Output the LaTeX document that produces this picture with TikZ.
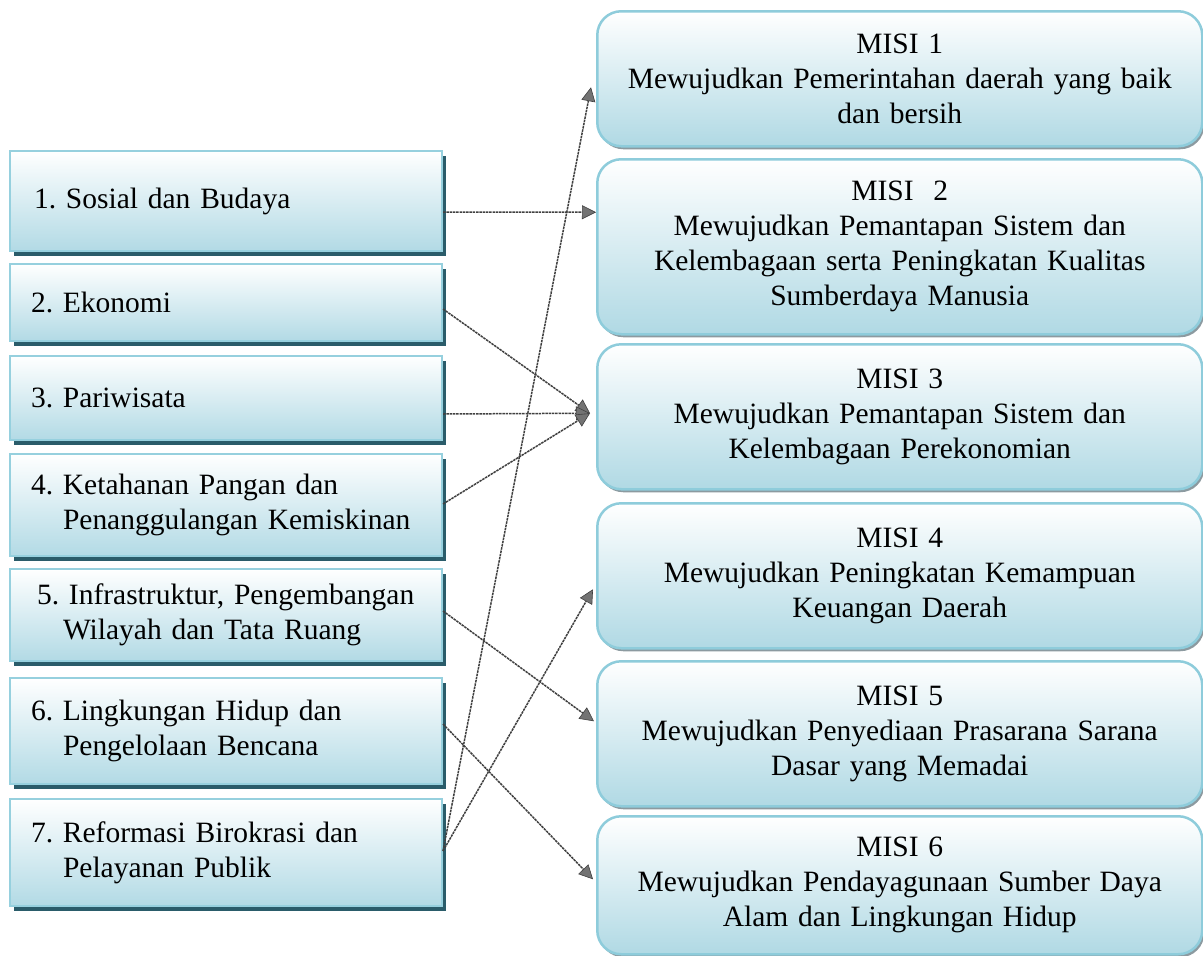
\documentclass[tikz,border=0pt]{standalone}
\usepackage{fontspec}
\setmainfont{Liberation Serif}
\usetikzlibrary{arrows.meta,shadows}
\definecolor{lfill}{RGB}{178,218,229}
\definecolor{lborder}{RGB}{150,208,222}
\definecolor{lshadow}{RGB}{42,92,106}
\definecolor{rfill}{RGB}{176,217,228}
\definecolor{rborder}{RGB}{142,204,219}
\definecolor{rshadow}{RGB}{140,154,160}
\newcommand{\boxfont}{\fontsize{29.5}{35}\selectfont\frenchspacing}
\begin{document}
\begin{tikzpicture}[x=1pt,y=-1pt,
  lbox/.style={anchor=north west, rectangle, draw=lborder, line width=2pt,
    top color=white, bottom color=lfill,
    general shadow={fill=lshadow, shadow xshift=4pt, shadow yshift=-5pt},
    minimum width=432pt, text width=390pt, inner xsep=21pt, inner ysep=0pt,
    align=left, font=\boxfont},
  rbox/.style={anchor=north west, rectangle, rounded corners=24pt, draw=rborder, line width=2.5pt,
    top color=white, bottom color=rfill,
    general shadow={fill=rshadow, shadow xshift=2pt, shadow yshift=-3pt},
    minimum width=605pt, text width=590pt, inner xsep=7.5pt, inner ysep=0pt,
    align=center, font=\boxfont},
  conn/.style={draw=black!75, line width=1.5pt, dash pattern=on 2.5pt off 0.8pt,
    -{Triangle[length=14pt,width=14pt,fill=black!55,line width=0.6pt]}}
]
\useasboundingbox (0,0) rectangle (1203,956);

% left boxes
\node[lbox, minimum height=100pt] (l1) at (9,150) {\hspace*{3pt}1. Sosial dan Budaya};
\node[lbox, minimum height=77pt] (l2) at (9,263) {2. Ekonomi};
\node[lbox, minimum height=84pt] (l3) at (9,355) {3. Pariwisata};
\node[lbox, minimum height=102pt] (l4) at (9,453) {4. Ketahanan Pangan dan\\\hspace*{32pt}Penanggulangan Kemiskinan};
\node[lbox, minimum height=92pt] (l5) at (9,568) {\hspace*{6pt}5. Infrastruktur, Pengembangan\\\hspace*{32pt}Wilayah dan Tata Ruang};
\node[lbox, minimum height=106pt] (l6) at (9,677) {6. Lingkungan Hidup dan\\\hspace*{32pt}Pengelolaan Bencana};
\node[lbox, minimum height=107pt] (l7) at (9,798) {7. Reformasi Birokrasi dan\\\hspace*{32pt}Pelayanan Publik};

% right boxes
\node[rbox, minimum height=135pt] (r1) at (596,10) {MISI 1\\Mewujudkan Pemerintahan daerah yang baik\\dan bersih};
\node[rbox, minimum height=175pt] (r2) at (596,158) {MISI\ \ 2\\Mewujudkan Pemantapan Sistem dan\\Kelembagaan serta Peningkatan Kualitas\\Sumberdaya Manusia};
\node[rbox, minimum height=145pt] (r3) at (596,343) {MISI 3\\Mewujudkan Pemantapan Sistem dan\\Kelembagaan Perekonomian};
\node[rbox, minimum height=145pt] (r4) at (596,502) {MISI 4\\Mewujudkan Peningkatan Kemampuan\\Keuangan Daerah};
\node[rbox, minimum height=145pt] (r5) at (596,660) {MISI 5\\Mewujudkan Penyediaan Prasarana Sarana\\Dasar yang Memadai};
\node[rbox, minimum height=138pt] (r6) at (596,815) {MISI 6\\Mewujudkan Pendayagunaan Sumber Daya\\Alam dan Lingkungan Hidup};

% connectors
\draw[conn] ([yshift=-11pt]l1.east) -- ([yshift=34.5pt]r2.west);
\draw[conn] ([yshift=-6.5pt]l2.east) -- ([xshift=-6pt,yshift=3.5pt]r3.west);
\draw[conn] ([yshift=-16pt]l3.east) -- ([xshift=-6pt,yshift=3.5pt]r3.west);
\draw[conn] ([yshift=1pt]l4.east) -- ([xshift=-6pt,yshift=3.5pt]r3.west);
\draw[conn] ([yshift=4pt]l5.east) -- ([xshift=-2pt,yshift=12.5pt]r5.west);
\draw[conn] ([yshift=7pt]l6.east) -- ([xshift=-3pt,yshift=6pt]r6.west);
\draw[conn] ([yshift=1.5pt]l7.east) -- ([xshift=-5pt,yshift=-8.5pt]r1.west);
\draw[conn] ([yshift=1.5pt]l7.east) -- ([xshift=-3pt,yshift=-13.5pt]r4.west);
\end{tikzpicture}
\end{document}
